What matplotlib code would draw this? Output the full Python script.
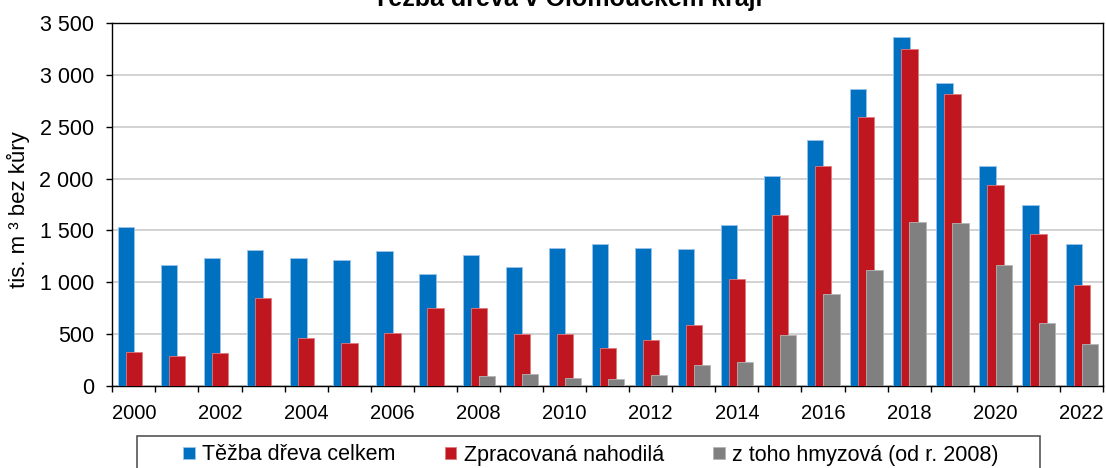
import numpy as np
import matplotlib.pyplot as plt
from matplotlib.patches import Rectangle
from matplotlib.ticker import FuncFormatter, FixedLocator

plt.rcParams['font.family'] = ['Liberation Sans', 'DejaVu Sans']

# tis. m3 bez kury
years = list(range(2000, 2023))
celkem = [1532, 1168, 1232, 1313, 1229, 1213, 1300, 1074, 1261, 1145, 1332, 1371,
          1332, 1319, 1552, 2029, 2370, 2870, 3367, 2925, 2122, 1748, 1371]
nahodila = [329, 284, 319, 848, 461, 410, 506, 748, 748, 503, 503, 365,
            445, 590, 1026, 1648, 2126, 2593, 3251, 2816, 1939, 1461, 968]
# hmyzova only from 2008
hmyz_years = list(range(2008, 2023))
hmyzova = [94, 113, 71, 65, 100, 197, 229, 487, 884, 1119, 1581, 1571, 1161, 603, 400]

labels = ['Těžba dřeva celkem', 'Zpracovaná nahodilá', 'z toho hmyzová (od r. 2008)']
colors = ['#0070C0', '#C0161F', '#808080']
edges = ['#9CC3E8', '#E07A7E', '#B5B5B5']

fig = plt.figure(figsize=(11.06, 4.68), dpi=100)
ax = fig.add_axes([112.3 / 1106, 1 - 385.7 / 468, (1103 - 112.3) / 1106, (385.7 - 23.3) / 468])

x = np.arange(len(years))
xh = np.array([years.index(y) for y in hmyz_years])
w = 0.378
ax.bar(x - 0.18, celkem, w, color=colors[0], edgecolor=edges[0], linewidth=0.6, label=labels[0], zorder=3)
ax.bar(x + 0.005, nahodila, w, color=colors[1], edgecolor=edges[1], linewidth=0.6, label=labels[1], zorder=4)
ax.bar(xh + 0.195, hmyzova, w, color=colors[2], edgecolor=edges[2], linewidth=0.6, label=labels[2], zorder=5)

ax.set_xlim(-0.5, len(years) - 0.5)
ax.set_ylim(0, 3500)
ax.set_yticks(np.arange(0, 3501, 500))
ax.yaxis.set_major_formatter(FuncFormatter(lambda v, p: f"{int(v):,}".replace(",", " ")))
ax.yaxis.grid(True, color='#CFCFCF', linewidth=1.3, zorder=0)
ax.set_axisbelow(True)

ax.xaxis.set_major_locator(FixedLocator(np.arange(-0.5, len(years), 1.0)))
ax.xaxis.set_minor_locator(FixedLocator(x[::2]))
ax.set_xticklabels([])
ax.set_xticklabels([str(y) for y in years[::2]], minor=True)
ax.tick_params(axis='x', which='major', direction='out', length=4.3, width=1, color='black')
ax.tick_params(axis='x', which='minor', length=0, pad=13, labelsize=14.5)
ax.tick_params(axis='y', direction='out', length=4.3, width=1, pad=9, labelsize=15.5)

for s in ax.spines.values():
    s.set_color('black')
    s.set_linewidth(1)

fig.text(18 / 1106, 1 - 210 / 468, 'tis. m ³ bez kůry', rotation=90, ha='center', va='center', fontsize=16)
# title sits mostly above the top edge, as in the reference
fig.text(568 / 1106, 1 - 5.7 / 468, 'Těžba dřeva v Olomouckém kraji', ha='center', va='baseline',
         fontsize=18, fontweight='bold')

# legend frame runs off the bottom edge
fig.patches.append(Rectangle((137 / 1106, -0.05), (1040 - 137) / 1106, 0.05 + 1 - 436 / 468,
                             transform=fig.transFigure, fill=False, edgecolor='#555555',
                             linewidth=1.2, clip_on=False))
fig.legend(loc='center', bbox_to_anchor=(591 / 1106, 1 - 455 / 468), ncol=3, frameon=False,
           fontsize=15.5, handlelength=0.52, handleheight=0.52, handletextpad=0.35,
           columnspacing=2.3, borderaxespad=0)

fig.savefig('out.png', dpi=100)
